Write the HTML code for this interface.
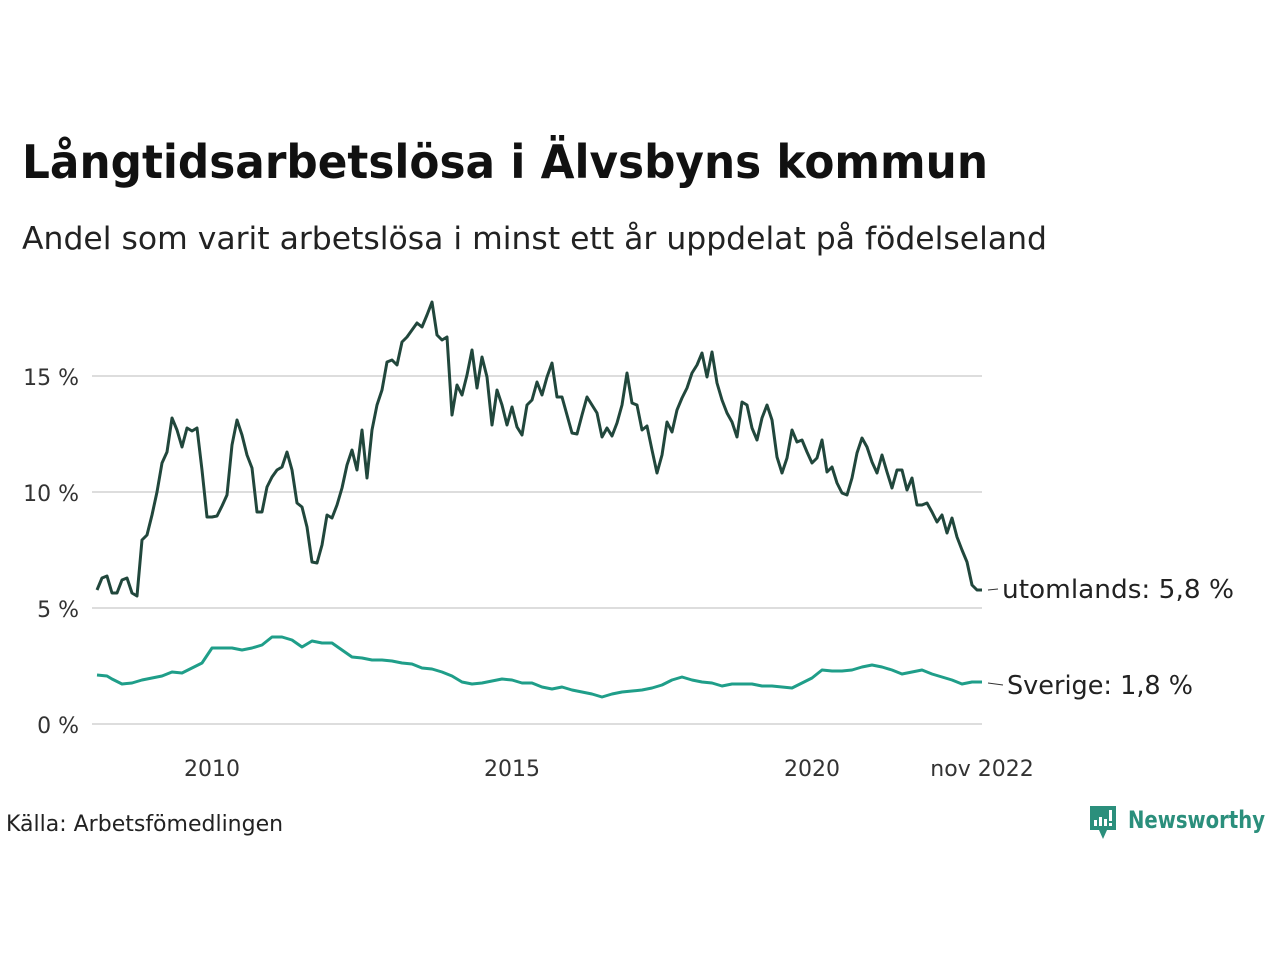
<!DOCTYPE html>
<html><head><meta charset="utf-8"><style>
body{margin:0;width:1280px;height:960px;background:#fff;font-family:"DejaVu Sans","Liberation Sans",sans-serif;overflow:hidden}
</style></head><body>
<svg width="1280" height="960" xmlns="http://www.w3.org/2000/svg" font-family="'DejaVu Sans','Liberation Sans',sans-serif">
<text x="22" y="178" font-size="46" font-weight="bold" fill="#111" textLength="966" lengthAdjust="spacingAndGlyphs">Långtidsarbetslösa i Älvsbyns kommun</text>
<text x="22" y="249" font-size="31" fill="#222" textLength="1025" lengthAdjust="spacingAndGlyphs">Andel som varit arbetslösa i minst ett år uppdelat på födelseland</text>
<g stroke="#dddddd" stroke-width="2">
<line x1="92" y1="376" x2="982" y2="376"/><line x1="92" y1="492" x2="982" y2="492"/>
<line x1="92" y1="608" x2="982" y2="608"/><line x1="92" y1="724" x2="982" y2="724"/>
</g>
<g font-size="22" fill="#333" text-anchor="end">
<text x="79" y="385">15 %</text><text x="79" y="501">10 %</text><text x="79" y="617">5 %</text><text x="79" y="733">0 %</text>
</g>
<g font-size="22" fill="#333" text-anchor="middle">
<text x="212" y="776">2010</text><text x="512" y="776">2015</text><text x="812" y="776">2020</text><text x="982" y="776">nov 2022</text>
</g>
<polyline fill="none" stroke="#1f9e89" stroke-width="3" stroke-linejoin="round" points="97,675 107,676 112,679 122,684 132,683 142,680 152,678 162,676 172,672 182,673 192,668 202,663 212,648 222,648 232,648 242,650 252,648 262,645 272,637 282,637 292,640 302,647 312,641 322,643 332,643 342,650 352,657 362,658 372,660 382,660 392,661 402,663 412,664 422,668 432,669 442,672 452,676 462,682 472,684 482,683 492,681 502,679 512,680 522,683 532,683 542,687 552,689 562,687 572,690 582,692 592,694 602,697 612,694 622,692 632,691 642,690 652,688 662,685 672,680 682,677 692,680 702,682 712,683 722,686 732,684 742,684 752,684 762,686 772,686 782,687 792,688 802,683 812,678 822,670 832,671 842,671 852,670 862,667 872,665 882,667 892,670 902,674 912,672 922,670 932,674 942,677 952,680 962,684 972,682 982,682"/>
<polyline fill="none" stroke="#21473c" stroke-width="3" stroke-linejoin="round" points="97,590 102,578 107,576 112,593 117,593 122,580 127,578 132,593 137,596 142,540 147,535 152,515 157,492 162,463 167,452 172,418 177,430 182,447 187,428 192,431 197,428 202,470 207,517 212,517 217,516 222,506 227,495 232,445 237,420 242,435 247,455 252,468 257,512 262,512 267,487 272,477 277,470 282,467 287,452 292,470 297,503 302,507 307,527 312,562 317,563 322,545 327,515 332,518 337,505 342,488 347,465 352,450 357,470 362,430 367,478 372,430 377,405 382,390 387,362 392,360 397,365 402,342 407,337 412,330 417,323 422,327 427,315 432,302 437,335 442,340 447,337 452,415 457,385 462,395 467,375 472,350 477,388 482,357 487,377 492,425 497,390 502,405 507,425 512,407 517,427 522,435 527,405 532,400 537,382 542,395 547,377 552,363 557,397 562,397 567,415 572,433 577,434 582,415 587,397 592,405 597,413 602,437 607,428 612,436 617,423 622,405 627,373 632,403 637,405 642,430 647,426 652,450 657,473 662,455 667,422 672,432 677,410 682,398 687,388 692,373 697,365 702,353 707,377 712,352 717,383 722,400 727,413 732,422 737,437 742,402 747,405 752,428 757,440 762,418 767,405 772,420 777,457 782,473 787,458 792,430 797,442 802,440 807,452 812,463 817,458 822,440 827,472 832,467 837,483 842,493 847,495 852,478 857,453 862,438 867,447 872,462 877,473 882,455 887,472 892,488 897,470 902,470 907,490 912,478 917,505 922,505 927,503 932,512 937,522 942,515 947,533 952,518 957,537 962,550 967,562 972,585 977,590 982,590"/>
<line x1="988" y1="590" x2="998" y2="589" stroke="#333" stroke-width="1"/>
<line x1="988" y1="683" x2="1003" y2="685" stroke="#333" stroke-width="1"/>
<text x="1002" y="598" font-size="26" fill="#222" textLength="232" lengthAdjust="spacingAndGlyphs">utomlands: 5,8 %</text>
<text x="1007" y="694" font-size="26" fill="#222" textLength="186" lengthAdjust="spacingAndGlyphs">Sverige: 1,8 %</text>
<text x="6" y="831" font-size="22" fill="#222">Källa: Arbetsfömedlingen</text>
<g>
<path d="M1090 806 h26 v24 h-9 l-4 9 l-4 -9 h-9 z" fill="#2b8f7c"/>
<rect x="1094" y="820" width="3" height="6" fill="#fff"/><rect x="1099" y="817" width="3" height="9" fill="#fff"/><rect x="1104" y="819" width="3" height="7" fill="#fff"/><rect x="1109" y="810" width="3" height="11" fill="#fff"/><rect x="1109" y="823" width="3" height="3" fill="#fff"/>
<text x="1128" y="828" font-size="24" font-weight="bold" fill="#2b8f7c" textLength="137" lengthAdjust="spacingAndGlyphs">Newsworthy</text>
</g>
</svg>
</body></html>
